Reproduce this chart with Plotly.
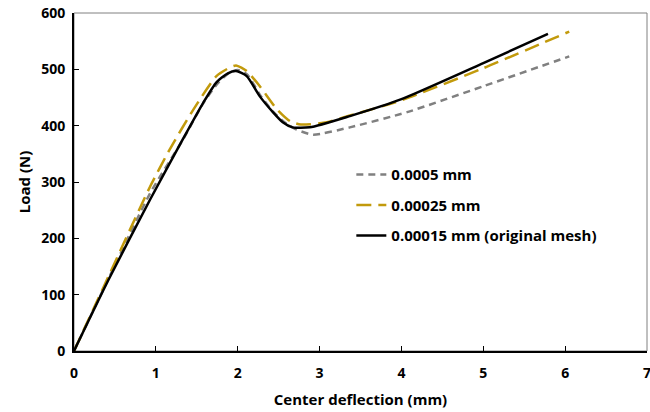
import plotly.graph_objects as go

# Data
x_coarse = [0, 0.42, 0.93, 1.33, 1.58, 1.76, 1.9, 2.0, 2.12, 2.27, 2.43, 2.58, 2.72, 2.92, 3.37, 4.07, 5.0, 6.05]
y_coarse = [0, 128, 280, 375, 440, 476, 494, 499, 490, 455, 425, 405, 393, 384, 397, 424, 470, 523]

x_mid = [0, 0.42, 0.93, 1.17, 1.46, 1.74, 1.9, 1.98, 2.11, 2.27, 2.48, 2.64, 2.77, 3.09, 3.37, 4.0, 5.0, 6.05]
y_mid = [0, 132, 292, 358, 429, 488, 503, 507, 497, 470, 429, 408, 402, 406, 418, 445, 502, 567]

x_orig = [0, 0.42, 0.93, 1.33, 1.58, 1.74, 1.88, 1.98, 2.11, 2.27, 2.43, 2.55, 2.67, 2.88, 3.37, 4.0, 5.0, 5.79]
y_orig = [0, 126, 269, 376, 441, 477, 493, 497, 488, 452, 424, 406, 397, 397, 417, 447, 511, 563]

names = ["0.0005 mm", "0.00025 mm", "0.00015 mm (original mesh)"]

x_ticks = [0, 1, 2, 3, 4, 5, 6, 7]
y_ticks = [0, 100, 200, 300, 400, 500, 600]

FONT = "Open Sans"

fig = go.Figure()
fig.add_trace(go.Scatter(x=x_coarse, y=y_coarse, mode="lines", name=names[0], legendgroup="a",
                         line=dict(color="#808080", width=2.5, dash="7px,5px", shape="spline", smoothing=0.6)))
fig.add_trace(go.Scatter(x=x_mid, y=y_mid, mode="lines", name=names[1], legendgroup="b",
                         line=dict(color="#C29A0C", width=2.5, dash="15px,7px", shape="spline", smoothing=0.6)))
fig.add_trace(go.Scatter(x=x_orig, y=y_orig, mode="lines", name=names[2], legendgroup="c",
                         line=dict(color="#000000", width=2.5, shape="spline", smoothing=0.6)))

fig.add_shape(type="rect", xref="paper", yref="paper", x0=0, y0=0, x1=1, y1=1,
              line=dict(color="#808080", width=1), layer="below")

fig.update_layout(
    width=650, height=412,
    margin=dict(l=74, r=3, t=13, b=61, autoexpand=False),
    plot_bgcolor="white", paper_bgcolor="white",
    font=dict(family=FONT, size=13, color="#000000", weight=700),
    showlegend=True,
    legend=dict(x=0.484, y=0.57, xanchor="left", yanchor="top",
                bgcolor="rgba(0,0,0,0)", tracegroupgap=8,
                font=dict(family=FONT, size=15, color="#000000", weight=700)),
    xaxis=dict(range=[0, 7], tickvals=x_ticks, ticktext=[str(v) for v in x_ticks],
               showgrid=False, zeroline=False, showline=True, linecolor="#000000", linewidth=2,
               ticks="inside", ticklen=5, tickcolor="#000000", tickwidth=1,
               ticklabeloverflow="allow", ticklabelstandoff=8, automargin=False,
               tickfont=dict(family=FONT, size=14, weight=700),
               title=dict(text="Center deflection (mm)", standoff=14,
                          font=dict(family=FONT, size=15, weight=700))),
    yaxis=dict(range=[0, 600], tickvals=y_ticks, ticktext=[str(v) for v in y_ticks],
               showgrid=False, zeroline=False, showline=True, linecolor="#000000", linewidth=2,
               ticks="inside", ticklen=5, tickcolor="#000000", tickwidth=1,
               ticklabelstandoff=4, automargin=False,
               tickfont=dict(family=FONT, size=14, weight=700),
               title=dict(text="Load (N)", standoff=7,
                          font=dict(family=FONT, size=15, weight=700))),
)

fig.write_html("out.html")
